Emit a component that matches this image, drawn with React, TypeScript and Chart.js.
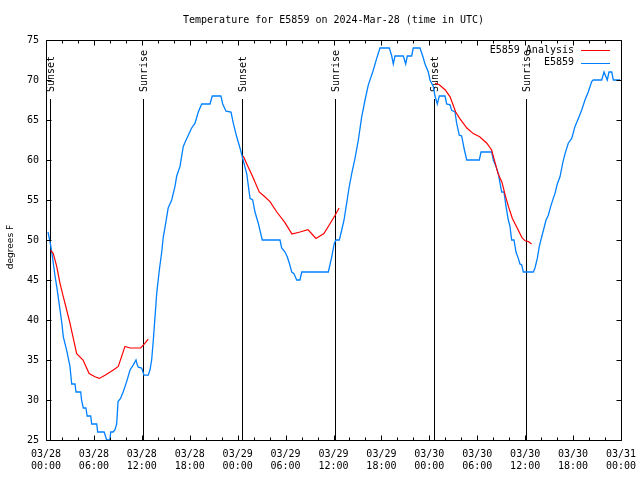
import { useEffect, useRef } from 'react';
import { Chart, registerables } from 'chart.js';

Chart.register(...registerables);

// ---- data (hours since 2024-03-28 00:00 UTC) ----
const titleText = 'Temperature for E5859 on 2024-Mar-28 (time in UTC)';
const yAxisLabel = 'degrees F';
const analysisLabel = 'E5859 Analysis';
const stationLabel = 'E5859';

const dayLabels = ['03/28', '03/29', '03/30', '03/31'];
const timeLabels = ['00:00', '06:00', '12:00', '18:00'];

const sunHours = [0.54, 12.18, 24.58, 36.23, 48.62, 60.14];
const sunLabels = ['Sunset', 'Sunrise', 'Sunset', 'Sunrise', 'Sunset', 'Sunrise'];
const sunLineTop = 67.6;

const stationHours = [
  0.25, 0.54, 0.79, 1.13, 1.34, 1.54, 1.75, 1.96, 2.17, 2.59, 3.0, 3.22, 3.63, 3.76, 4.35, 4.45,
  4.67, 5.0, 5.15, 5.6, 5.72, 6.35, 6.47, 7.28, 7.6, 8.0, 8.1, 8.4, 8.64, 8.85, 9.02, 9.33,
  9.66, 10.1, 10.52, 10.93, 11.27, 11.43, 11.56, 11.98, 12.27, 12.8, 13.02, 13.23, 13.44, 13.86,
  14.19, 14.49, 14.69, 14.99, 15.3, 15.74, 16.15, 16.37, 16.78, 17.19, 17.4, 17.82, 18.24, 18.66,
  19.07, 19.5, 20.54, 20.82, 21.9, 22.13, 22.54, 23.17, 23.45, 23.88, 24.29, 24.63, 25.13, 25.55,
  25.88, 26.17, 26.58, 27.08, 29.3, 29.51, 29.93, 30.21, 30.47, 30.77, 31.05, 31.39, 31.8, 32.02,
  35.35, 35.78, 36.1, 36.31, 36.73, 37.03, 37.32, 37.65, 37.94, 38.28, 38.69, 39.11, 39.53, 39.95,
  40.36, 40.91, 41.41, 41.82, 42.99, 43.29, 43.49, 43.7, 44.74, 45.04, 45.24, 45.79, 45.99, 46.83,
  47.17, 47.46, 47.87, 48.08, 48.5, 48.71, 49.0, 49.25, 49.96, 50.17, 50.59, 50.8, 51.21, 51.42,
  51.75, 52.05, 52.34, 52.68, 54.26, 54.47, 55.81, 56.01, 56.35, 56.64, 56.85, 57.06, 57.35, 57.6,
  57.89, 58.1, 58.31, 58.6, 58.85, 59.14, 59.35, 59.56, 59.77, 61.02, 61.23, 61.52, 61.77, 62.07,
  62.36, 62.61, 62.9, 63.2, 63.52, 63.73, 64.02, 64.36, 64.7, 64.99, 65.4, 65.83, 66.24, 66.66,
  67.08, 67.49, 67.9, 68.33, 68.53, 69.58, 69.87, 70.28, 70.5, 70.84, 71.04, 71.88,
];
const stationTemps = [
  51, 49.6, 48, 45.5, 44.2, 42.8, 41.3, 39.8, 37.9, 36.2, 34.2, 32, 32, 31, 31, 30,
  29, 29, 28, 28, 27, 27, 26, 26, 25, 25, 26, 26, 26.3, 27, 29.8, 30.2,
  31, 32.3, 33.75, 34.4, 35, 34.4, 34.1, 34, 33.1, 33.1, 33.75, 35, 37.5, 43.3,
  46.25, 48.5, 50.4, 52.1, 54, 55, 56.7, 58, 59.2, 61.7, 62.2, 63.1, 64, 64.6,
  66, 67, 67, 68, 68, 67, 66.1, 66, 64.6, 62.9, 61.5, 60.2, 58.3, 55.2,
  55, 53.5, 52.1, 50, 50, 49, 48.5, 47.9, 47.1, 46, 45.8, 45, 45, 46,
  46, 47.9, 49.6, 50, 50, 51.25, 52.5, 54.6, 56.5, 58.3, 60.2, 62.5, 65.4, 67.5,
  69.4, 71, 72.7, 74, 74, 73, 72, 73, 73, 72, 73, 73, 74, 74,
  73, 72, 71, 70, 69.2, 68, 67, 68, 68, 67, 66.9, 66.2, 66, 64.6,
  63.1, 63, 61.5, 60, 60, 61, 61, 60, 59.2, 58.3, 57.1, 56, 56, 54.2,
  52.5, 51.7, 50, 50, 48.5, 47.7, 47, 46.9, 46, 46, 46.5, 47.7, 49.2, 50.4,
  51.5, 52.5, 53.1, 54.2, 55.2, 55.8, 57, 57.9, 59.6, 60.8, 62.1, 62.7, 64.2, 65.2,
  66.25, 67.5, 68.5, 69.8, 70, 70, 71, 70, 71, 71, 70, 70,
];

// analysis series, null separates the three segments
const analysisHours = [
  0.59, 0.91, 1.34, 1.75, 2.17, 2.59, 3.0, 3.42, 3.84, 4.64, 5.4, 6.13, 6.67, 7.39, 8.43, 9.05,
  9.89, 10.52, 11.86, 12.4, 12.8,
  18,
  24.7, 25.1, 25.8, 26.7, 27.4, 28.05, 28.9, 29.9, 30.8, 31.8, 32.8, 33.3, 33.8, 34.8, 35.6, 36.2, 36.7,
  42,
  48.7, 49.25, 50, 50.6, 51.3, 51.8, 52.7, 53.5, 54.3, 55.2, 55.8, 56.2, 56.6, 57.1, 57.5, 57.9,
  58.4, 59.0, 59.6, 60.0, 60.4, 60.8,
];
const analysisTemps = [
  48.7, 48.3, 46.7, 44.6, 42.9, 41.25, 39.6, 37.7, 35.8, 35, 33.3, 32.9, 32.7, 33.1, 33.75, 34.2,
  36.7, 36.5, 36.5, 37.1, 37.6,
  null,
  60.5, 59.6, 58.1, 56, 55.4, 54.8, 53.5, 52.2, 50.75, 51, 51.3, 50.75, 50.2, 50.8, 52.1, 53.1, 54,
  null,
  69.6, 69.4, 68.75, 67.9, 66, 65.2, 64, 63.3, 62.9, 62.1, 61.25, 59.8, 58.3, 57.2, 55.6, 54.2,
  52.7, 51.5, 50.3, 49.9, 49.8, 49.5,
];

const RED = '#ff0000';
const BLUE = '#0080ff';
const MONO = '"DejaVu Sans Mono", monospace';

const gnuplotPlugin = {
  id: 'gnuplotDecor',
  beforeDatasetsDraw(chart: any) {
    const { ctx, chartArea: a, scales } = chart;
    const x = scales.x;
    const y = scales.y;
    ctx.save();
    ctx.strokeStyle = '#000';
    ctx.fillStyle = '#000';
    ctx.lineWidth = 1;
    ctx.font = `10px ${MONO}`;
    const topPx = y.getPixelForValue(sunLineTop);
    sunHours.forEach((h, i) => {
      const px = Math.round(x.getPixelForValue(h)) + 0.5;
      ctx.beginPath();
      ctx.moveTo(px, Math.round(topPx));
      ctx.lineTo(px, a.bottom);
      ctx.stroke();
      ctx.save();
      ctx.translate(px + 1, Math.round(topPx) - 7);
      ctx.rotate(-Math.PI / 2);
      ctx.textAlign = 'left';
      ctx.textBaseline = 'middle';
      ctx.fillText(sunLabels[i], 0, 0);
      ctx.restore();
    });
    ctx.restore();
  },
  afterDraw(chart: any) {
    const { ctx, chartArea: a, scales } = chart;
    const x = scales.x;
    const y = scales.y;
    ctx.save();
    ctx.strokeStyle = '#000';
    ctx.fillStyle = '#000';
    ctx.lineWidth = 1;
    const L = Math.round(a.left) + 0.5;
    const R = Math.round(a.right) + 0.5;
    const T = Math.round(a.top) + 0.5;
    const B = Math.round(a.bottom) + 0.5;
    ctx.beginPath();
    ctx.rect(L, T, R - L, B - T);
    ctx.stroke();
    // x ticks (major 6 h, minor 2 h), inward, bottom and top
    ctx.beginPath();
    for (let h = 0; h <= 72; h += 2) {
      const px = Math.round(x.getPixelForValue(h)) + 0.5;
      const len = h % 6 === 0 ? 5 : 3;
      ctx.moveTo(px, B);
      ctx.lineTo(px, B - len);
      ctx.moveTo(px, T);
      ctx.lineTo(px, T + len);
    }
    // y ticks, left and right
    for (let v = 25; v <= 75; v += 5) {
      const py = Math.round(y.getPixelForValue(v)) + 0.5;
      ctx.moveTo(L, py);
      ctx.lineTo(L + 5, py);
      ctx.moveTo(R, py);
      ctx.lineTo(R - 5, py);
    }
    ctx.stroke();

    // title
    ctx.font = `10px ${MONO}`;
    ctx.textAlign = 'center';
    ctx.textBaseline = 'middle';
    ctx.fillText(titleText, (a.left + a.right) / 2, 20);

    // y label
    ctx.save();
    ctx.translate(11, 247);
    ctx.rotate(-Math.PI / 2);
    ctx.font = '9px "DejaVu Sans", sans-serif';
    ctx.textAlign = 'center';
    ctx.textBaseline = 'middle';
    ctx.fillText(yAxisLabel, 0, 0);
    ctx.restore();

    // legend
    ctx.font = `10px ${MONO}`;
    ctx.textAlign = 'right';
    ctx.textBaseline = 'middle';
    const rows = [
      { label: analysisLabel, color: RED, yy: 50 },
      { label: stationLabel, color: BLUE, yy: 62.5 },
    ];
    rows.forEach((r) => {
      ctx.fillStyle = '#000';
      ctx.fillText(r.label, 574, r.yy);
      ctx.strokeStyle = r.color;
      ctx.beginPath();
      ctx.moveTo(581, Math.round(r.yy) + 0.5);
      ctx.lineTo(610, Math.round(r.yy) + 0.5);
      ctx.stroke();
    });
    ctx.restore();
  },
};

export default function App() {
  const ref = useRef<HTMLCanvasElement | null>(null);
  useEffect(() => {
    if (!ref.current) return;
    const chart = new Chart(ref.current, {
      type: 'line',
      data: {
        datasets: [
          {
            label: analysisLabel,
            data: analysisHours.map((h, i) => ({ x: h, y: analysisTemps[i] })) as any,
            borderColor: RED,
            borderWidth: 1.2,
            pointRadius: 0,
            spanGaps: false,
            tension: 0,
          },
          {
            label: stationLabel,
            data: stationHours.map((h, i) => ({ x: h, y: stationTemps[i] })),
            borderColor: BLUE,
            borderWidth: 1.3,
            pointRadius: 0,
            tension: 0,
          },
        ],
      },
      options: {
        animation: false,
        responsive: false,
        devicePixelRatio: 1,
        layout: { padding: { top: 40, right: 19, left: 0, bottom: 0 } },
        plugins: {
          legend: { display: false },
          tooltip: { enabled: false },
          title: { display: false },
        },
        scales: {
          x: {
            type: 'linear',
            min: 0,
            max: 72,
            grid: { display: false, drawTicks: false },
            border: { display: false },
            afterFit: (s: any) => {
              s.height = 40;
              s.paddingLeft = 0;
              s.paddingRight = 0;
            },
            ticks: {
              stepSize: 6,
              autoSkip: false,
              maxRotation: 0,
              minRotation: 0,
              padding: 8,
              color: '#000',
              font: { family: MONO, size: 10, lineHeight: 1.2 },
              callback: (v: any) => {
                const h = Number(v);
                return [dayLabels[Math.floor(h / 24)], timeLabels[(h % 24) / 6]];
              },
            },
          },
          y: {
            min: 25,
            max: 75,
            grid: { display: false, drawTicks: false },
            border: { display: false },
            afterFit: (s: any) => {
              s.width = 46;
              s.paddingTop = 0;
              s.paddingBottom = 0;
            },
            ticks: {
              stepSize: 5,
              padding: 7,
              color: '#000',
              font: { family: MONO, size: 10 },
            },
          },
        },
      },
      plugins: [gnuplotPlugin],
    });
    return () => chart.destroy();
  }, []);
  return (
    <div style={{ position: 'fixed', left: 0, top: 0, width: 640, height: 480, background: '#fff' }}>
      <canvas ref={ref} width={640} height={480} />
    </div>
  );
}
